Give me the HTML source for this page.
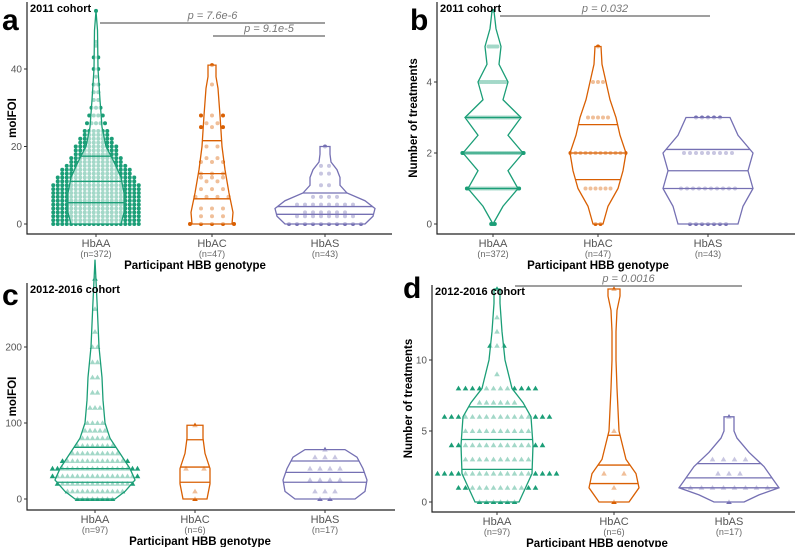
<!DOCTYPE html>
<html><head><meta charset="utf-8"><style>
html,body{margin:0;padding:0;background:#fff}
svg{display:block;font-family:"Liberation Sans",Arial,sans-serif}
</style></head><body>
<svg id="fig" width="798" height="547" viewBox="0 0 798 547"></svg>
<script>
// ---- data ----
const categories=["HbAA","HbAC","HbAS"];
const colors=["#1b9e77","#d95f02","#7570b3"];
const nA=["(n=372)","(n=47)","(n=43)"];
const nC=["(n=97)","(n=6)","(n=17)"];
const ticksA=[0,20,40];const ticksB=[0,2,4];const ticksC=[0,100,200];const ticksD=[0,5,10];
// violin profiles [value, density]
const violA0=[[0,25],[3,28],[8,28],[12,25],[16,18],[20,10],[25,6],[32,4],[40,2],[50,1.5],[55,0]];
const violA1=[[0,20],[3,21],[8,17],[14,13],[20,10],[28,8],[35,6],[38,4],[41,4]];
const violA2=[[0,40],[2,48],[4,50],[6,40],[8,22],[10,15],[12,15],[14,12],[16,6],[18,5],[20,5]];
const quantA=[[5.5,11,17.5],[6.5,13,21.5],[2.5,4.5,8]];
const ptsA0=[[0,20],[1,20],[2,20],[3,20],[4,20],[5,20],[6,20],[7,20],[8,20],[9,20],[10,20],[11,18],[12,18],[13,16],[14,16],[15,14],[16,12],[17,12],[18,10],[19,10],[20,10],[21,8],[22,8],[23,6],[24,6],[26,5],[28,4],[30,3],[32,2],[34,2],[36,2],[38,1],[40,2],[43,2],[46,1],[47,1],[55,1]];
const ptsA1=[[0,5],[2,3],[4,3],[7,4],[9,3],[11,2],[12,3],[13,3],[16,3],[17,2],[20,2],[25,3],[26,2],[28,3],[36,1],[41,1]];
const ptsA2=[[0,10],[2,8],[3,6],[5,8],[7,4],[10,2],[13,2],[15,2],[20,1]];
const violB0=[[0,0],[0.5,10],[1,25],[1.5,15],[2,30],[2.5,15],[3,28],[3.5,10],[4,15],[4.5,6],[5,8],[5.5,3],[6,1]];
const violB1=[[0,5],[0.5,10],[1,20],[1.5,25],[2,28],[2.5,22],[3,18],[3.5,12],[4,8],[4.5,4],[5,3]];
const violB2=[[0,30],[0.5,35],[1,45],[1.5,40],[2,45],[2.5,30],[3,22]];
const quantB=[[1,2,3],[1.25,2,2.8],[1,1.5,2.1]];
const ptsB0=[[0,3],[1,30],[2,35],[3,28],[4,15],[5,6],[6,1]];
const ptsB1=[[0,2],[1,6],[2,12],[3,5],[4,3],[5,1]];
const ptsB2=[[0,7],[1,10],[2,9],[3,5]];
const violC0=[[0,20],[10,30],[25,40],[40,35],[60,25],[80,15],[100,10],[130,8],[160,7],[200,4],[260,2],[315,0]];
const violC1=[[0,12],[20,15],[40,15],[60,10],[80,8],[97,8]];
const violC2=[[0,30],[10,40],[25,42],[40,38],[55,32],[65,20]];
const quantC=[[22,40,68],[22,42,78],[22,35,50]];
const ptsC0=[[0,8],[10,12],[20,16],[30,18],[40,18],[50,14],[60,10],[70,8],[80,6],[90,5],[100,4],[120,3],[140,2],[160,2],[180,2],[200,2],[220,1],[250,1],[290,1]];
const ptsC1=[[0,1],[10,1],[40,2],[97,1]];
const ptsC2=[[0,2],[10,3],[25,4],[40,4],[55,3],[65,1]];
const violD0=[[0,22],[2,35],[4,36],[6,34],[7,26],[8,15],[10,8],[12,5],[14,3],[15,3]];
const violD1=[[0,15],[1,25],[2,22],[3,12],[5,5],[8,3],[10,2],[12,2],[13.5,3],[14.5,6],[15,6]];
const violD2=[[0,15],[0.5,30],[1,50],[1.5,45],[2.5,35],[3.5,20],[4.5,8],[5,5],[5.5,5],[6,5]];
const quantD=[[2.3,4.4,6.7],[1.3,2.6,4.7],[1,1.7,2.7]];
const ptsD0=[[0,6],[1,12],[2,18],[3,10],[4,14],[5,10],[6,16],[7,6],[8,12],[9,1],[11,3],[12,1],[13,1],[15,1]];
const ptsD1=[[0,1],[1,1],[2,2],[5,1],[15,1]];
const ptsD2=[[0,1],[1,8],[2,3],[3,4],[6,1]];

const NS="http://www.w3.org/2000/svg";const svg=document.getElementById("fig");
function mk(t,a,p){const e=document.createElementNS(NS,t);for(const k in a)e.setAttribute(k,a[k]);(p||svg).appendChild(e);return e;}
function txt(x,y,s,a,p){const e=mk("text",Object.assign({x:x,y:y},a),p);e.textContent=s;return e;}

function panel(cfg){
  const g=mk("g",{});
  
  
  const y=v=>cfg.y0-(v*cfg.k);
  const ax=mk("path",{d:`M${cfg.ax},${cfg.top} V${cfg.bottom} H${cfg.right}`,stroke:"#222",fill:"none","stroke-width":1.2},g);
  
  cfg.ticks.forEach(t=>{mk("line",{x1:cfg.ax-3,x2:cfg.ax,y1:y(t),y2:y(t),stroke:"#333"},g);
    const tl=txt(cfg.ax-5,y(t)+3.5,String(t),{"font-size":10,fill:"#555","text-anchor":"end"},g);
    });
  categories.forEach((c,i)=>{const cx=cfg.cx[i];
    cfg.pts[i].forEach(([v,n])=>{for(let j=0;j<n;j++){const px=cx+(j-(n-1)/2)*cfg.sp[i],py=y(v);
      let m;if(cfg.tri)m=mk("path",{d:`M${px},${py-2.8}L${px+2.8},${py+2}L${px-2.8},${py+2}Z`,fill:colors[i]},g);
      else m=mk("circle",{cx:px,cy:py,r:2,fill:colors[i]},g);
      }});
    const vp=cfg.viol[i];const sc=cfg.ws;
    let d="M"+vp.map(([v,w])=>`${cx+w*sc},${y(v)}`).join("L");
    d+="L"+vp.slice().reverse().map(([v,w])=>`${cx-w*sc},${y(v)}`).join("L")+"Z";
    const vi=mk("path",{d:d,fill:"rgba(255,255,255,0.6)",stroke:colors[i],"stroke-width":1.3},g);
    
    cfg.q[i].forEach(q=>{let w=0;for(let k=0;k<vp.length-1;k++){if(q>=vp[k][0]&&q<=vp[k+1][0]){const f=(q-vp[k][0])/(vp[k+1][0]-vp[k][0]);w=vp[k][1]+f*(vp[k+1][1]-vp[k][1]);}}
      const ql=mk("line",{x1:cx-w*sc,x2:cx+w*sc,y1:y(q),y2:y(q),stroke:colors[i],"stroke-width":1.3},g);
      });
    mk("line",{x1:cx,x2:cx,y1:cfg.bottom,y2:cfg.bottom+3,stroke:"#333"},g);
    const cl=txt(cx,cfg.bottom+13,c,{"font-size":11,fill:"#555","text-anchor":"middle"},g);
    
    const nl=txt(cx,cfg.bottom+23,cfg.n[i],{"font-size":9,fill:"#666","text-anchor":"middle"},g);
    
  });
  const xt=txt(cfg.xtx,cfg.bottom+35,"Participant HBB genotype",{"font-size":11.5,"font-weight":"bold","text-anchor":"middle"},g);
  
  const yt=txt(0,0,cfg.ytitle,{"font-size":11.5,"font-weight":"bold","text-anchor":"middle",transform:`translate(${cfg.ax-cfg.ytoff},${(cfg.top+cfg.bottom)/2}) rotate(-90)`},g);
  
  const lt=txt(cfg.lx,cfg.ly,cfg.letter,{"font-size":30,"font-weight":"bold"},g);
  
  const ct=txt(cfg.ax+3,cfg.top+10,cfg.cohort,{"font-size":11,"font-weight":"bold"},g);
  
  cfg.p.forEach(([x1,x2,yy,s])=>{mk("line",{x1:x1,x2:x2,y1:yy,y2:yy,stroke:"#666","stroke-width":1.2},g);
    const pt=txt((x1+x2)/2,yy-4,s,{"font-size":11,fill:"#777","font-style":"italic","text-anchor":"middle"},g);
    });
}
panel({letter:"a",cohort:"2011 cohort",ax:27,top:2,bottom:234,right:392,y0:224,k:3.875,ticks:ticksA,cx:[96,212,325],
 viol:[violA0,violA1,violA2],q:quantA,pts:[ptsA0,ptsA1,ptsA2],sp:[4.5,11,8],ws:1,tri:false,n:nA,xtx:195,ytitle:"molFOI",ytoff:11,lx:2,ly:30,
 p:[[100,325,23,"p = 7.6e-6"],[213,325,36,"p = 9.1e-5"]]});
panel({letter:"b",cohort:"2011 cohort",ax:437,top:2,bottom:234,right:795,y0:224,k:35.5,ticks:ticksB,cx:[493,598,708],
 viol:[violB0,violB1,violB2],q:quantB,pts:[ptsB0,ptsB1,ptsB2],sp:[1.8,5,6],ws:1,tri:false,n:nA,xtx:598,ytitle:"Number of treatments",ytoff:20,lx:410,ly:30,
 p:[[500,710,16,"p = 0.032"]]});
panel({letter:"c",cohort:"2012-2016 cohort",ax:27,top:283,bottom:510,right:395,y0:499,k:0.76,ticks:ticksC,cx:[95,195,325],
 viol:[violC0,violC1,violC2],q:quantC,pts:[ptsC0,ptsC1,ptsC2],sp:[5,18,10],ws:1,tri:true,n:nC,xtx:200,ytitle:"molFOI",ytoff:11,lx:2,ly:305,p:[]});
panel({letter:"d",cohort:"2012-2016 cohort",ax:432,top:285,bottom:512,right:795,y0:502,k:14.2,ticks:ticksD,cx:[497,614,729],
 viol:[violD0,violD1,violD2],q:quantD,pts:[ptsD0,ptsD1,ptsD2],sp:[7,20,11],ws:1,tri:true,n:nC,xtx:597,ytitle:"Number of treatments",ytoff:20,lx:403,ly:298,
 p:[[515,742,286,"p = 0.0016"]]});
</script>
</body></html>
